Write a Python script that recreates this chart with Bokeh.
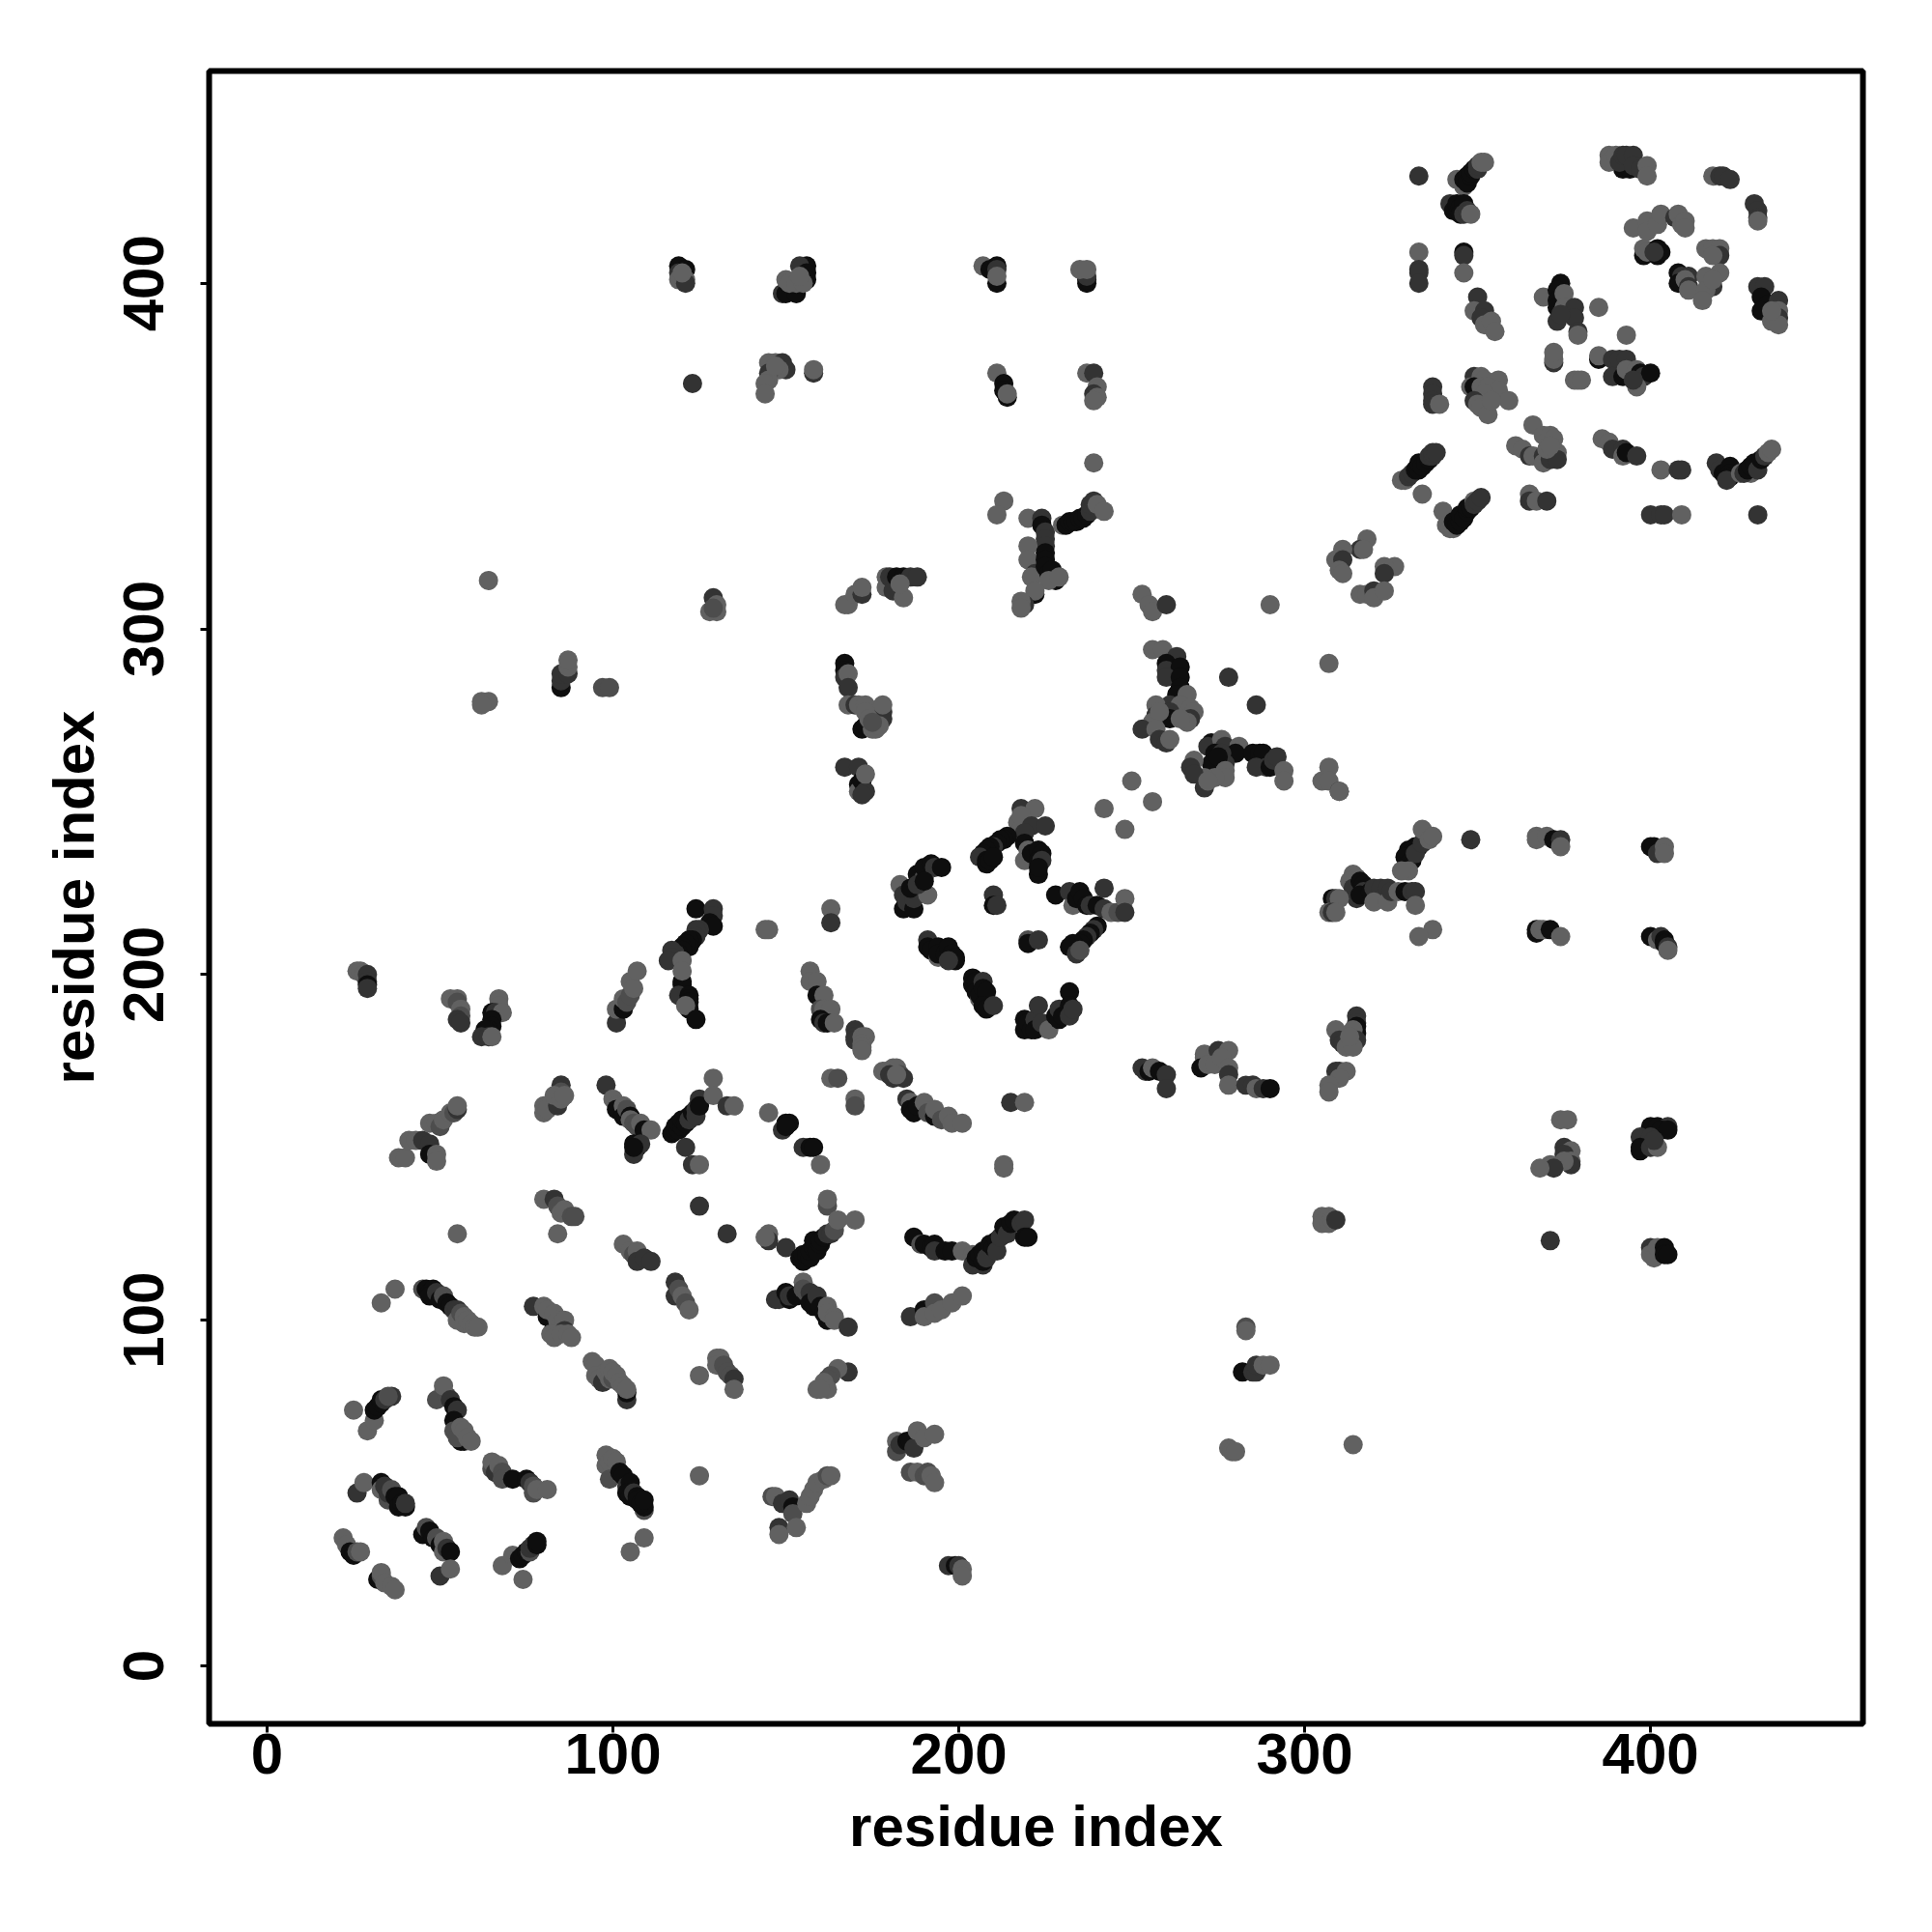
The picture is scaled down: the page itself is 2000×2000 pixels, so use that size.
from bokeh.plotting import figure
from bokeh.models import ColumnDataSource, Range1d, FixedTicker
from bokeh.embed import file_html
from bokeh.resources import INLINE

tick_values = [0, 100, 200, 300, 400]
axis_title = "residue index"
# each entry: residue i, residue j, score (1 weak .. 4 strong)
lower_left = [
(22,37,1),(23,35,1),(24,33,4),(25,32,4),(26,33,2),(27,33,1),(32,25,4),(33,26,2),(33,27,1),(34,24,1),(36,23,1),(37,22,1),
(26,50,3),(28,53,1),(33,53,4),(33,51,1),(34,52,3),(35,48,2),(35,50,3),(36,51,2),(37,49,4),(38,49,4),(38,46,4),(39,47,4),(40,46,4),(40,47,3),
(45,38,4),(46,40,2),(47,39,4),(48,37,4),(49,37,2),(50,35,4),(51,36,1),(51,33,1),(52,34,3),(53,33,4),(50,26,3),(53,28,1),
(68,29,1),(74,25,1),(71,32,1),(73,31,4),(74,32,4),(75,33,4),(76,33,2),(76,34,3),(77,35,3),(78,35,4),(78,36,4),
(25,74,1),(29,68,1),(31,71,1),(31,74,4),(32,75,4),(33,76,4),(33,77,4),(34,77,3),(36,78,3),(35,78,2),
(51,79,1),(49,77,2),(52,78,2),(51,81,1),(53,77,3),(54,75,4),(55,74,3),(54,71,4),(54,68,2),(56,65,4),(57,65,4),(55,66,2),(56,69,1),(57,68,1),(58,66,1),(59,65,1),
(65,57,2),(65,59,1),(66,56,3),(67,58,1),(68,56,2),(68,54,2),(71,54,4),(75,54,4),(76,53,3),(77,52,2),(77,50,2),(78,51,1),(81,51,1),
(98,61,1),(98,58,1),(99,59,1),(100,60,1),(101,59,1),(99,54,2),(102,56,4),(103,55,4),(104,52,3),(105,53,4),(104,50,4),(105,49,4),(106,50,3),(107,49,4),(109,45,2),(109,46,4),(107,48,4),(108,47,4),(109,48,4),
(109,37,1),(105,33,1),(125,55,1),
(146,49,2),(147,49,1),(149,47,3),(151,48,3),(152,46,4),(152,44,2),(148,40,3),(148,38,1),(153,40,1),(156,47,1),(157,49,1),(158,51,1),(159,53,1),(161,54,1),(162,55,2),(163,55,1),
(182,65,1),(182,62,2),(183,64,3),(185,65,4),(186,65,4),(187,63,3),(188,68,1),(190,66,1),(193,67,1),(186,56,2),(188,56,1),(190,55,2),(191,56,2),(192,55,1),(193,53,1),
(197,29,3),(199,29,4),(200,29,3),(201,28,1),(201,26,1),
(278,63,1),(279,62,1),(280,62,1),(314,64,1),
]
middle_left = [
(33,105,1),(37,109,1),(45,109,2),(46,109,4),(47,108,4),(48,109,4),(47,107,4),(49,108,3),(50,106,4),(51,107,2),(52,105,4),(53,104,4),(54,103,3),(55,103,3),(55,100,1),(56,102,2),(57,101,1),(57,99,1),(58,100,1),(59,99,1),(60,98,1),(61,98,1),
(55,125,1),(77,104,3),(80,104,1),(81,101,4),(81,103,1),(83,98,4),(83,102,1),(84,100,1),(85,99,1),(86,100,1),(86,97,3),(82,96,1),(83,95,1),(85,96,1),(87,96,1),(88,95,1),
(94,88,1),(95,87,1),(95,84,1),(96,83,1),(97,82,3),(98,85,1),(99,86,1),(99,83,1),(100,83,2),(100,85,1),(101,84,1),(102,82,1),(104,77,3),(104,79,4),(103,81,1),(104,80,1),
(80,135,1),(83,135,3),(84,133,2),(85,131,1),(86,132,1),(88,130,2),(89,130,2),(84,125,1),
(103,122,1),(105,120,1),(106,119,2),(107,120,1),(107,117,3),(109,118,3),(111,117,3),
(118,111,3),(118,107,3),(119,109,2),(120,107,1),(121,105,2),(122,103,1),
(125,84,1),(130,89,1),(131,89,1),(130,87,1),(132,87,2),(133,85,2),(134,84,2),(135,83,3),(135,80,1),
(147,106,3),(148,106,3),(150,108,4),(151,106,4),(151,107,3),(152,107,3),(153,107,4),(155,111,1),(155,109,2),(156,108,2),(157,108,3),(157,105,4),(158,104,4),(159,107,3),(160,104,4),(161,102,4),(162,100,4),(162,104,1),(162,102,1),(164,101,1),(164,100,1),(168,98,3),
(186,101,3),(190,103,4),(190,101,1),(193,105,2),(193,102,1),(195,103,1),(198,105,1),(201,107,1),
(168,85,3),(165,86,1),(163,84,2),(162,83,2),(161,82,1),(159,80,1),(162,80,1),(160,80,1),
(125,133,3),(133,125,3),(145,125,1),(145,123,3),(144,124,1),(150,121,3),
(154,118,4),(155,117,4),(155,119,4),(156,119,4),(157,118,4),(157,120,4),(158,121,4),(158,123,4),(159,120,4),(160,122,4),(160,123,4),(161,124,4),(162,125,3),(163,125,3),(164,126,2),
(162,133,2),(162,135,1),(165,129,1),(170,129,1),
(187,124,4),(189,122,2),(190,122,4),(192,121,4),(193,122,4),(193,120,3),(196,120,4),(198,120,4),(201,120,1),(204,119,1),(204,116,3),(207,116,3),(205,118,4),(206,119,4),(207,117,4),(207,120,4),(208,118,3),(209,122,4),(210,121,4),(211,123,4),(211,120,3),(212,124,3),(213,127,4),(214,125,3),(215,128,4),(216,129,4),(218,128,3),(219,129,3),(219,124,4),(220,124,4),
]
upper_left_band = [
(38,147,1),(40,147,1),(41,152,1),(43,152,1),(45,152,3),(47,151,3),(47,148,4),(49,148,1),(49,146,1),(47,157,1),(49,157,1),(50,156,2),(51,158,1),(53,160,1),(54,160,2),(55,161,3),(55,162,1),
(80,160,1),(80,162,1),(81,161,1),(84,162,3),(85,168,3),(85,166,2),(83,165,1),(85,164,1),(86,165,1),
(98,168,3),(100,164,1),(101,162,1),(101,161,4),(103,162,1),(103,159,4),(104,161,2),(105,159,4),(105,158,1),(106,157,2),(107,156,2),(108,157,1),(109,155,4),(111,155,1),(106,151,4),(107,150,4),(108,151,3),(106,148,3),(106,150,4),
(117,154,4),(118,155,4),(118,156,4),(119,155,4),(119,157,4),(120,156,4),(120,158,4),(121,157,4),(122,159,4),(122,158,3),(123,160,4),(124,161,3),(124,159,3),(125,163,3),(125,164,3),(125,162,4),
(129,170,1),(129,165,1),(133,162,3),(135,162,1),(121,150,3),(123,145,3),(125,145,1),
(145,160,1),(150,157,4),(151,157,4),(149,155,3),(150,156,4),(155,150,3),(157,150,4),(158,150,4),(160,145,1),
(26,201,1),(27,201,1),(28,200,1),(29,200,3),(29,198,3),(29,197,4),(29,196,3),
(53,193,1),(55,193,1),(55,192,2),(56,190,1),(56,188,2),(55,187,3),(56,186,3),
(67,193,1),(67,191,1),(65,189,4),(66,189,3),(68,189,1),(65,187,4),(65,185,4),(64,184,4),(63,184,4),(62,182,3),(64,182,3),(65,182,1),
(101,186,3),(101,190,1),(103,190,4),(103,193,1),(104,192,2),(105,194,2),(105,198,1),(106,196,1),(107,201,1),
(124,219,4),(129,219,3),(129,217,3),(128,215,4),(129,214,4),(125,213,3),(124,213,3),(124,211,3),(123,210,4),(122,210,4),(122,208,4),(121,209,4),(120,208,4),(120,207,4),(119,206,4),(118,206,3),(117,207,3),(117,205,3),(116,204,3),(120,198,4),(120,197,4),(119,194,3),(122,194,4),(122,193,4),(122,192,4),(122,190,4),(121,191,1),(124,187,4),(120,204,1),(120,201,1),
(144,213,1),(145,213,1),(163,219,1),(163,215,3),
(157,201,1),(157,198,1),(159,198,1),(159,194,4),(161,194,1),(160,190,2),(161,190,1),(163,190,1),(160,187,4),(161,186,3),(162,186,4),(164,186,1),
(170,184,3),(170,182,3),(170,181,3),(172,182,1),(173,182,1),(172,180,1),(172,179,1),(172,178,1),
(178,172,1),(179,172,1),(181,173,1),(182,173,1),(180,171,3),(181,170,3),(183,171,2),(184,170,3),(182,171,1),
(163,170,1),(165,170,2),(170,164,1),(170,162,2),
(185,164,3),(186,163,1),(186,161,4),(187,160,4),(188,162,4),(190,163,1),(191,160,2),(193,159,4),(193,161,1),(195,158,2),(197,159,1),(198,157,1),(201,157,1),
(215,163,3),(219,163,1),(213,145,1),(213,144,1),(283,98,2),(283,97,1),(282,85,4),(285,85,3),(286,85,3),(286,87,3),(288,87,1),(290,87,1),
]
diamond = [
(183,226,1),(184,223,3),(184,219,4),(185,221,3),(187,219,4),(187,222,3),(186,225,4),(188,229,4),(190,228,2),(191,223,1),(188,226,3),(190,231,4),(192,232,4),(193,231,3),(195,231,4),(190,227,4),
(210,223,3),(210,220,4),(211,220,3),
(228,223,4),(232,224,3),(233,220,1),(234,222,4),(235,224,4),(236,222,4),(237,220,4),(238,220,3),(240,220,4),(242,225,3),(242,219,3),(244,218,1),(246,218,2),(248,222,1),(248,218,3),
(240,214,4),(239,213,3),(238,212,4),(237,211,3),(236,210,4),(235,209,4),(234,208,4),(233,209,4),(232,208,4),(234,206,3),(235,207,2),
(220,210,2),(220,209,4),(223,210,3),
(191,210,3),(191,208,4),(192,207,4),(194,208,4),(194,205,1),(194,206,4),(196,206,4),(197,208,4),(198,206,4),(199,204,4),(199,205,4),(197,204,3),
(204,199,4),(204,197,4),(205,198,4),(205,195,4),(206,193,1),(206,194,4),(207,198,3),(207,196,4),(208,195,4),(207,191,4),(208,190,4),(210,191,3),
(219,187,4),(219,184,4),(220,186,4),(221,184,4),(222,187,3),(223,191,3),(222,184,4),(224,186,3),(226,184,1),(228,188,4),(229,187,4),(229,190,3),(230,188,4),(232,195,4),(232,191,4),(232,188,3),(233,190,3),
(218,248,3),(222,248,1),(217,244,1),(218,242,1),(218,246,1),(221,243,3),(225,243,3),(219,241,3),(214,240,4),(213,239,4),(212,239,4),(211,238,4),(210,237,3),(209,237,4),(208,236,4),(207,235,4),(206,234,3),(208,233,4),(208,232,4),(209,233,4),(210,234,4),(219,238,4),(220,236,1),(219,233,1),(221,235,4),(223,236,4),(224,235,4),(223,233,4),(224,233,3),(223,229,4),(223,231,4),
]
centre = [
(250,256,1),(242,248,1),(256,250,1),(248,242,1),(253,310,1),(255,307,1),(256,305,1),(260,307,3),(290,307,1),(239,348,1),(307,290,1),(278,286,3),(286,278,3),
(256,294,1),(259,294,1),(263,292,3),(260,290,4),(260,288,3),(264,289,4),(260,286,3),(264,286,4),(264,283,4),(263,281,4),(266,281,1),(261,278,3),(257,278,1),(264,278,1),(267,277,1),(268,276,1),(261,276,3),(261,274,4),(257,275,3),(256,273,1),(258,276,1),(267,274,3),(266,273,1),(264,274,1),(253,271,3),(257,271,1),(258,268,3),(260,267,3),(261,268,1),
(273,267,4),(272,266,3),(276,268,1),(277,266,3),(281,266,1),(280,264,4),(274,264,4),(276,264,3),(273,261,4),(277,261,3),(275,263,4),(277,259,1),(277,257,1),(274,257,1),(271,257,1),(268,262,1),(267,260,3),(268,258,3),(271,254,3),(272,256,1),(285,264,4),(287,264,4),(288,264,4),(289,260,3),(286,260,3),(290,260,4),(291,262,3),(292,263,3),(294,259,1),(294,256,1),
(307,260,1),(305,256,1),(307,256,1),(310,253,3),
(318,326,1),(316,323,3),(317,323,1),(311,323,1),(309,320,1),(311,320,3),(310,317,1),(311,316,1),(326,318,1),(323,318,1),(323,316,3),(316,310,1),(318,310,1),(320,311,3),(320,309,1),(323,311,1),
(253,173,3),(254,172,3),(255,172,4),(256,173,1),(258,172,4),(260,171,3),(260,167,3),(271,177,1),(271,176,1),(270,173,4),(272,174,1),(275,178,3),(274,174,1),(278,178,1),(276,176,1),(278,173,1),(278,171,3),(278,168,1),(283,168,3),(285,168,3),(286,167,1),(288,167,3),(290,167,4),
]
top_left = [
(119,405,4),(119,403,3),(121,404,4),(119,401,1),(121,401,1),(121,400,3),(120,403,1),
(156,405,4),(154,405,3),(156,403,4),(156,401,4),(149,397,3),(150,397,4),(153,397,4),(150,401,1),(151,400,1),(153,400,1),(155,400,1),(154,402,1),
(207,405,1),(209,404,4),(211,405,4),(211,400,4),(211,404,3),(211,402,1),
(237,400,4),(237,401,4),(237,402,3),(235,404,1),(237,404,1),
(123,371,3),(145,377,1),(147,377,1),(149,377,3),(150,375,3),(148,375,1),(145,374,3),(145,372,1),(144,371,1),(144,368,1),(147,376,1),(158,374,3),(158,375,1),
(211,374,1),(213,371,4),(213,369,4),(214,367,4),(214,368,1),
(237,374,1),(239,374,3),(240,370,1),(239,368,3),(240,367,1),(239,366,1),
(213,337,1),(211,333,1),(220,332,1),(224,332,3),(224,330,4),(225,328,3),(225,326,3),(225,324,3),(220,324,1),(220,320,1),(225,322,4),(225,320,4),(222,316,3),(221,315,1),(225,318,4),(226,316,4),(227,317,4),(228,314,4),(226,314,1),(229,315,1),(222,310,4),(222,311,1),(219,307,3),(218,308,1),(218,306,1),
(230,330,1),(231,330,4),(232,331,4),(233,331,4),(234,331,4),(235,332,4),(236,332,4),(237,333,4),(238,334,3),(238,336,3),(239,337,3),(240,336,1),(242,334,1),
(129,309,3),(130,307,1),(128,305,1),(130,305,1),(129,306,2),
(167,307,1),(168,307,1),(170,310,1),(172,310,3),(172,312,1),
(179,315,1),(179,312,1),(180,315,3),(181,314,3),(181,311,3),(184,309,1),(182,315,4),(184,315,4),(186,315,3),(188,315,3),(183,313,1),
(64,314,1),(62,279,1),(64,279,1),(62,278,1),(85,283,4),(85,285,3),(85,287,3),(87,287,3),(87,289,1),(87,291,1),(97,283,2),(99,283,2),
(167,290,4),(167,288,4),(167,286,3),(168,287,1),(168,283,3),(168,278,1),(170,278,3),(171,278,1),(173,278,1),(172,271,4),(173,272,4),(178,276,3),(178,274,3),(178,278,1),(173,276,1),(174,274,1),(175,271,1),(176,271,1),(177,272,1),(175,273,2),
(167,260,3),(171,260,3),(171,255,4),(171,253,1),(172,256,4),(173,253,3),(172,252,3),(173,258,1),
]
right_lower = [
(310,253,1),(330,236,4),(331,236,4),(332,237,4),(333,237,4),(331,235,4),(330,234,4),(329,234,4),(331,233,4),(330,232,4),(332,235,3),(334,238,3),(335,240,3),(330,230,1),(328,230,1),(334,242,1),(336,239,1),(337,240,1),
(348,239,3),(367,240,1),(367,239,1),(370,240,1),(372,239,4),(374,239,3),(374,237,1),
(400,237,4),(401,237,4),(402,235,3),(404,237,1),(404,235,1),
(314,229,1),(315,228,1),(313,227,1),(314,225,3),(316,227,4),(317,226,4),(318,225,4),(317,224,3),(315,222,3),(316,223,4),(319,224,4),(320,225,3),(322,225,3),(320,221,1),(324,225,3),(324,221,1),(325,224,3),(327,224,1),(329,224,4),(331,224,3),(332,224,3),(332,220,1),(337,213,1),(333,211,1),(308,222,4),(309,222,3),(310,222,1),(307,218,1),(308,218,3),(309,218,1),
(367,213,4),(367,212,4),(368,213,1),(369,213,1),(371,213,4),(374,211,1),
(400,211,4),(402,210,1),(403,211,3),(404,210,4),(404,209,4),(405,208,3),(405,207,1),
(315,188,3),(315,186,3),(315,185,4),(315,183,4),(314,184,1),(309,184,1),(315,181,3),(310,181,3),(311,180,3),(312,179,1),(314,179,1),(313,182,1),
(309,172,3),(310,172,3),(312,172,1),(310,170,1),(307,168,1),(307,166,1),
(374,158,1),(376,158,1),(375,150,3),(377,149,1),(375,148,3),(377,146,1),(377,145,3),(375,146,1),(371,145,1),(372,144,3),(368,144,1),
(400,156,4),(402,156,4),(405,156,3),(403,155,4),(405,155,4),(397,153,3),(400,153,3),(397,149,4),(397,150,4),(400,150,3),(402,150,1),(401,152,3),
(305,130,1),(307,130,1),(305,128,1),(307,128,1),(308,129,1),(309,129,3),(371,123,3),
(400,121,3),(400,119,1),(401,118,1),(402,121,1),(404,121,4),(404,119,4),(405,119,4),
]
right_upper = [
(333,431,3),(344,430,1),(346,428,1),(346,430,4),(347,431,4),(347,429,4),(348,431,4),(348,432,4),(349,433,4),(350,433,3),(350,434,3),(351,435,1),(352,435,1),
(342,423,3),(343,421,4),(344,423,4),(345,422,4),(346,423,4),(345,420,4),(346,420,3),(347,421,3),(348,420,1),
(333,409,1),(333,404,3),(333,403,3),(333,400,3),(346,409,4),(346,408,3),(346,403,1),
(350,396,3),(349,392,1),(352,392,3),(351,390,3),(352,388,1),(354,389,1),(355,386,1),
(337,370,3),(337,368,3),(337,366,3),(337,365,3),(339,365,1),
(349,373,3),(351,373,1),(352,372,1),(356,372,1),(348,370,1),(349,370,4),(351,370,1),(353,370,1),(356,369,1),(352,368,1),(349,366,3),(350,365,1),(351,364,1),(353,362,1),(359,366,1),(354,366,1),
(328,343,1),(329,343,1),(330,344,3),(331,345,3),(332,346,4),(333,346,4),(333,348,4),(334,347,4),(335,348,4),(336,349,4),(336,350,3),(337,350,3),(337,351,3),(338,351,3),(334,339,1),
(340,334,1),(341,330,1),(342,329,1),(343,329,1),(343,331,4),(344,330,4),(345,331,4),(345,333,4),(346,332,4),(347,334,4),(347,335,4),(348,335,4),(349,337,1),(349,336,3),(350,337,3),(351,338,3),
(365,339,1),(365,337,3),(367,337,1),(370,337,3),(372,377,3),(372,378,1),(372,380,1),(378,372,1),(379,372,1),(380,372,1),
(361,353,1),(363,352,1),(366,359,1),(369,356,1),(371,356,1),(372,355,1),(365,350,3),(366,350,1),(369,350,3),(369,348,1),(371,349,3),(373,351,1),(373,349,3),(370,352,1),(371,353,1),
(369,396,1),(374,400,4),(373,398,4),(373,395,4),(373,393,4),(375,397,1),(375,393,1),(378,393,3),(378,390,3),(373,389,3),(379,386,3),(379,385,1),(385,393,1),(374,391,3),(393,385,1),
(385,378,4),(385,379,1),(389,378,3),(391,378,3),(393,378,3),(389,373,3),(392,373,4),(393,375,1),(396,375,1),(397,374,4),(398,373,3),(400,374,4),(396,370,1),(395,372,3),
(386,355,1),(388,354,1),(389,352,3),(392,352,3),(392,350,1),(393,351,4),(396,350,3),
(403,346,1),(408,346,3),(409,346,3),(400,333,3),(403,333,3),(404,333,3),(409,333,1),(431,333,3),
(419,348,3),(420,346,3),(421,345,4),(423,347,4),(423,345,4),(423,344,4),(422,343,3),
(426,345,1),(429,345,1),(427,345,3),(428,346,4),(429,347,4),(430,348,4),(431,346,3),(432,349,4),(433,350,3),(434,351,1),(435,352,1),
(392,433,4),(394,433,4),(388,437,1),(388,435,1),(390,437,1),(391,435,3),(392,437,3),(393,437,3),(395,437,3),(395,434,3),(397,433,3),(399,434,1),(399,431,1),
(418,431,1),(420,431,3),(421,431,3),(423,430,3),(430,423,3),(431,421,3),(431,419,3),(431,418,1),
(395,416,1),(399,418,1),(399,415,1),(402,417,1),(403,420,1),(407,419,3),(408,420,1),(409,417,1),(410,418,1),(410,416,1),
(398,408,4),(398,410,1),(399,409,1),(402,410,4),(402,408,4),(403,409,4),(401,409,3),
(416,410,1),(418,410,1),(420,410,1),(420,408,3),(418,408,1),
(408,403,4),(409,402,3),(411,402,3),(408,400,4),(410,401,1),(411,399,3),(411,398,1),
(420,403,1),(416,402,1),(418,399,3),(416,398,1),(415,395,1),(418,401,1),
(431,399,3),(433,399,3),(432,396,4),(434,394,4),(437,395,3),(432,392,4),(437,392,1),(437,390,3),(435,389,1),(437,388,1),(435,392,1),
]

contacts = lower_left + middle_left + upper_left_band + diamond + centre + top_left + right_lower + right_upper
grey_for_score = {1: "#616161", 2: "#4d4d4d", 3: "#333333", 4: "#0e0e0e"}
source = ColumnDataSource(dict(
    i=[c[0] for c in contacts],
    j=[c[1] for c in contacts],
    colour=[grey_for_score[c[2]] for c in contacts],
))

p = figure(width=1984, height=1984, output_backend="svg", toolbar_location=None,
           x_range=Range1d(-16.76, 461.4), y_range=Range1d(-16.77, 461.4),
           min_border_left=216, min_border_right=56, min_border_top=73, min_border_bottom=200,
           x_axis_label=axis_title, y_axis_label=axis_title)
p.scatter("i", "j", source=source, size=20, fill_color="colour", line_color=None)

p.grid.visible = False
p.outline_line_color = "black"
p.outline_line_width = 6
p.background_fill_color = "white"
p.border_fill_color = "white"
for ax in (p.xaxis[0], p.yaxis[0]):
    ax.ticker = FixedTicker(ticks=tick_values)
    ax.axis_line_color = None
    ax.major_tick_line_color = "black"
    ax.major_tick_line_width = 3
    ax.major_tick_in = 0
    ax.major_tick_out = 9
    ax.minor_tick_line_color = None
    ax.major_label_text_font = "Liberation Sans"
    ax.major_label_text_font_style = "bold"
    ax.major_label_text_font_size = "60px"
    ax.major_label_text_color = "black"
    ax.axis_label_text_font = "Liberation Sans"
    ax.axis_label_text_font_style = "bold"
    ax.axis_label_text_font_size = "60px"
    ax.axis_label_text_color = "black"
p.yaxis[0].major_label_orientation = "parallel"
p.xaxis[0].major_label_standoff = 1
p.yaxis[0].major_label_standoff = 38
p.xaxis[0].axis_label_standoff = 18
p.yaxis[0].axis_label_standoff = 16

open("out.html", "w").write(file_html(p, INLINE))
